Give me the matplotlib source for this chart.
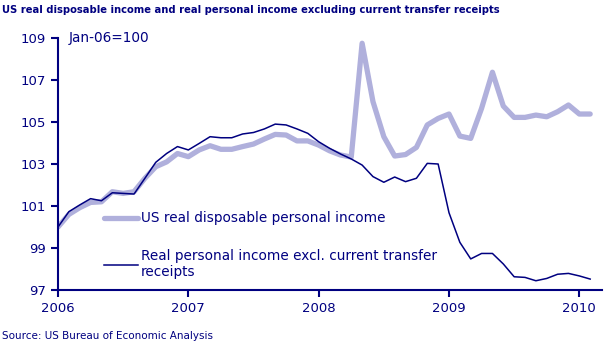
import numpy as np
import matplotlib.pyplot as plt

# Monthly index values, Jan 2006 = 100 (Jan 2006 .. Feb 2010)
disposable = [100.0, 100.6, 100.92, 101.17, 101.2, 101.68, 101.6, 101.68, 102.32, 102.87,
              103.1, 103.5, 103.35, 103.67, 103.87, 103.7, 103.7, 103.83, 103.95, 104.19,
              104.41, 104.38, 104.1, 104.1, 103.9, 103.63, 103.43, 103.33, 108.75, 105.97,
              104.3, 103.38, 103.45, 103.79, 104.86, 105.17, 105.38, 104.33, 104.22, 105.65,
              107.37, 105.76, 105.22, 105.22, 105.33, 105.25, 105.49, 105.81, 105.38, 105.38]
excl_transfers = [100.0, 100.73, 101.05, 101.35, 101.25, 101.63, 101.6, 101.57, 102.32, 103.08,
                  103.5, 103.83, 103.67, 103.98, 104.3, 104.25, 104.25, 104.43, 104.5, 104.67,
                  104.9, 104.86, 104.67, 104.46, 104.06, 103.75, 103.48, 103.24, 102.95, 102.4,
                  102.13, 102.38, 102.16, 102.32, 103.03, 103.0, 100.68, 99.27, 98.48, 98.74,
                  98.74, 98.24, 97.63, 97.6, 97.44, 97.55, 97.75, 97.79, 97.67, 97.52]
years = ['2006', '2007', '2008', '2009', '2010']
yticks = [97, 99, 101, 103, 105, 107, 109]

navy = '#000080'
lavender = '#b0b0dc'

months = np.arange(len(disposable))

fig = plt.figure(figsize=(6.1, 3.44), dpi=100)
ax = fig.add_axes([0.0951, 0.157, 0.892, 0.7325])

ax.plot(months, disposable, color=lavender, lw=3.8, solid_capstyle='round',
        solid_joinstyle='round', label='US real disposable personal income')
ax.plot(months, excl_transfers, color=navy, lw=1.1,
        label='Real personal income excl. current transfer\nreceipts')

ax.set_xlim(0, 50.1)
ax.set_ylim(97, 109)
ax.set_xticks(np.arange(len(years)) * 12)
ax.set_xticklabels(years)
ax.set_yticks(yticks)

for s in ['top', 'right']:
    ax.spines[s].set_visible(False)
for s in ['left', 'bottom']:
    ax.spines[s].set_color(navy)
    ax.spines[s].set_linewidth(1.5)
ax.tick_params(colors=navy, labelcolor=navy, labelsize=9.5, length=5, width=1.5)
ax.tick_params(axis='x', pad=4)

leg = ax.legend(loc='upper left', bbox_to_anchor=(0.074, 0.334), frameon=False,
                fontsize=9.8, handlelength=2.5, handletextpad=0.25, labelspacing=1.75,
                borderaxespad=0)
for t in leg.get_texts():
    t.set_color(navy)

ax.text(0.02, 1.0, 'Jan-06=100', transform=ax.transAxes, color=navy, fontsize=9.8,
        va='center', ha='left')

fig.text(0.004, 0.972, 'US real disposable income and real personal income excluding current transfer receipts',
         color=navy, fontsize=7.2, fontweight='bold', va='center', ha='left')
fig.text(0.004, 0.022, 'Source: US Bureau of Economic Analysis', color=navy, fontsize=7.5,
         va='center', ha='left')

fig.savefig('out.png', dpi=100)
